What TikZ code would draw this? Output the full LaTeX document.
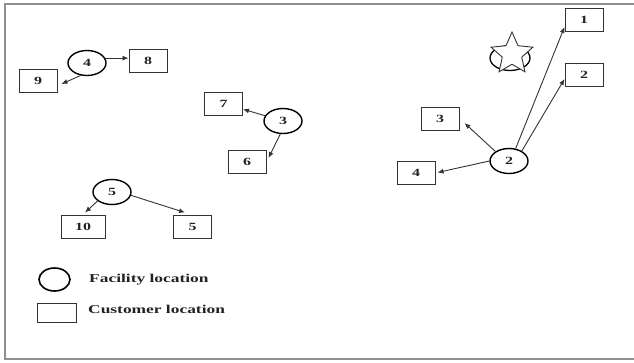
\documentclass[tikz,border=0pt]{standalone}
\usepackage{fontspec}
\setmainfont{Liberation Serif}
\newfontfamily\lblfont{Liberation Serif}[FakeStretch=1.45]
\usetikzlibrary{shapes.geometric,arrows.meta}

\definecolor{inkc}{HTML}{222222}
\definecolor{linec}{HTML}{333333}
\definecolor{framec}{HTML}{8E8E8E}

\tikzset{
  facility/.style={ellipse, draw=black, line width=1.4pt, minimum width=38pt,
    minimum height=25pt, inner sep=0pt, text=inkc,
    font=\lblfont\bfseries\fontsize{11}{11}\selectfont},
  customer/.style={rectangle, draw=linec, line width=1pt, minimum width=38pt,
    minimum height=23pt, inner sep=0pt, text=inkc,
    font=\lblfont\bfseries\fontsize{11}{11}\selectfont},
  link/.style={draw=linec, line width=0.9pt, -{Latex[length=6pt,width=5pt]}},
  legendtext/.style={anchor=west, inner sep=0pt, text=inkc,
    font=\lblfont\bfseries\fontsize{12}{12}\selectfont}
}

\begin{document}
\begin{tikzpicture}[x=1pt, y=-1pt]
\useasboundingbox (0,0) rectangle (634,362);

% outer frame (right side runs past the page edge)
\draw[framec, line width=2pt] (640,3.5) -- (4.5,3.5) -- (4.5,358.5) -- (640,358.5);

% facility 4 and its customers
\node[facility] (f4) at (87,63) {4};
\node[customer] (c8) at (148,61) {8};
\node[customer] (c9) at (38,80.5) {9};
\draw[link] (f4.15) -- (c8.west |- f4.15);
\draw[link] (f4.243) -- ([shift={(4,3.5)}]c9.east);

% facility 3 and its customers
\node[facility] (f3) at (283,121) {3};
\node[customer] (c7) at (223.5,103.5) {7};
\node[customer] (c6) at (247,162) {6};
\draw[link] (f3) -- (c7);
\draw[link] (f3.258) -- ([shift={(2,-4)}]c6.east);

% facility 5 and its customers
\node[facility] (f5) at (112,192) {5};
\node[customer, minimum width=44pt] (c10) at (83,226.5) {10};
\node[customer] (c5) at (192.5,226.5) {5};
\draw[link] (f5.212) -- ([shift={(2,-2)}]c10.north);
\draw[link] (f5.350) -- ([shift={(-7.5,-2)}]c5.north);

% facility 2 and its customers
\node[facility] (f2) at (509,161) {2};
\node[customer] (c1) at (584,19.5) {1};
\node[customer] (c2) at (584,74.5) {2};
\node[customer] (c3) at (440,118.5) {3};
\node[customer] (c4) at (416,172.5) {4};
\draw[link] (f2.62) -- ([shift={(0,7.5)}]c1.west);
\draw[link] (f2.38) -- ([shift={(0,4.5)}]c2.west);
\draw[link] (f2.145) -- ([shift={(5,4.5)}]c3.east);
\draw[link] (f2.west) -- ([shift={(2,0)}]c4.east);

% closed facility: star laid over a circle
\node[ellipse, draw=black, line width=1.3pt, minimum width=40pt,
  minimum height=25pt] (closed) at (510,58) {};
\node[star, star points=5, star point ratio=2.15, draw=linec, line width=0.9pt,
  fill=white, minimum size=44pt, inner sep=0pt] (closedstar) at (512,54) {};

% legend
\node[ellipse, draw=black, line width=1.6pt, minimum width=31pt,
  minimum height=23pt, inner sep=0pt] (legfac) at (54.5,279.5) {};
\node[legendtext] (legfactxt) at (89,280) {Facility location};
\node[rectangle, draw=linec, line width=1pt, minimum width=39pt,
  minimum height=19pt, inner sep=0pt] (legcus) at (56.5,312.5) {};
\node[legendtext] (legcustxt) at (88,309) {Customer location};
\end{tikzpicture}
\end{document}
